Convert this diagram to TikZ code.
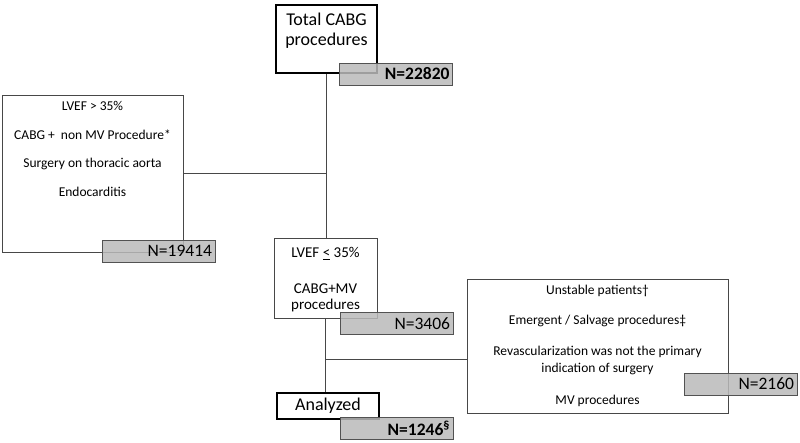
\documentclass[tikz,border=0pt]{standalone}
\usepackage{fontspec}
\setmainfont{Carlito}
\usetikzlibrary{positioning}
\tikzset{
  mainbox/.style={draw=black, line width=2.6pt, align=center, font=\fontsize{18}{20}\selectfont},
  plainbox/.style={draw=black!72, line width=0.9pt},
  boxtext/.style={align=center, inner sep=0pt},
  countbox/.style={draw=black!68, line width=0.9pt, fill=black!27, fill opacity=0.85, text opacity=1,
    text width=107pt, align=right, inner sep=3pt, minimum height=22pt, font=\fontsize{17.5}{19}\selectfont},
  link/.style={draw=black!72, line width=0.9pt}
}
\begin{document}
\begin{tikzpicture}[x=1pt, y=-1pt]
\useasboundingbox (0,0) rectangle (800,443);
\node[mainbox, minimum width=101pt, minimum height=68pt] (total) at (326.5,39) {};
\node[boxtext, below=9pt of total.north, font=\fontsize{18}{20.5}\selectfont] (totaltext) {Total CABG\\procedures};
\node[plainbox, minimum width=181pt, minimum height=157pt] (excl) at (92.5,173.5) {};
\node[boxtext, below=7pt of excl.north, font=\fontsize{13.5}{16}\selectfont] (excltext)
  {LVEF > 35\%\\[12.5pt] CABG +\ \ non MV Procedure*\\[12.5pt] Surgery on thoracic aorta\\[12.5pt] Endocarditis};
\node[plainbox, minimum width=103pt, minimum height=80pt] (low) at (325.5,278) {};
\node[boxtext, below=10pt of low.north, font=\fontsize{15}{16}\selectfont] (lowtext)
  {LVEF \underline{<} 35\%\\[20pt] CABG+MV\\procedures};
\node[plainbox, minimum width=261pt, minimum height=134pt] (rexcl) at (597.5,346) {};
\node[boxtext, below=6pt of rexcl.north, font=\fontsize{13.5}{16.5}\selectfont] (rexcltext)
  {Unstable patients\textdagger\\[14pt] Emergent / Salvage procedures\textdaggerdbl\\[14.5pt]
   Revascularization was not the primary\\indication of surgery\\[16pt] MV procedures};
\node[mainbox, minimum width=102pt, minimum height=26pt, inner sep=2pt] (anal) at (328,406) {Analyzed};
\draw[link] (total.south) -- (total.south |- low.north);
\draw[link] (excl.east) -- (excl.east -| total.south);
\draw[link] (low.south) -- (low.south |- anal.north);
\coordinate (junction) at (325.5,359);
\draw[link] (junction) -- (junction -| rexcl.west);
\node[countbox, font=\fontsize{17.5}{19}\selectfont\bfseries] (ntotal) at (396,74) {N=22820};
\node[countbox] (nexcl) at (158.5,251) {N=19414};
\node[countbox] (nlow) at (396.5,323.5) {N=3406};
\node[countbox] (nrexcl) at (740.5,384) {N=2160};
\node[countbox, font=\fontsize{17.5}{19}\selectfont\bfseries] (nanal) at (396.5,428.5) {N=1246\textsuperscript{\S}};
\end{tikzpicture}
\end{document}
